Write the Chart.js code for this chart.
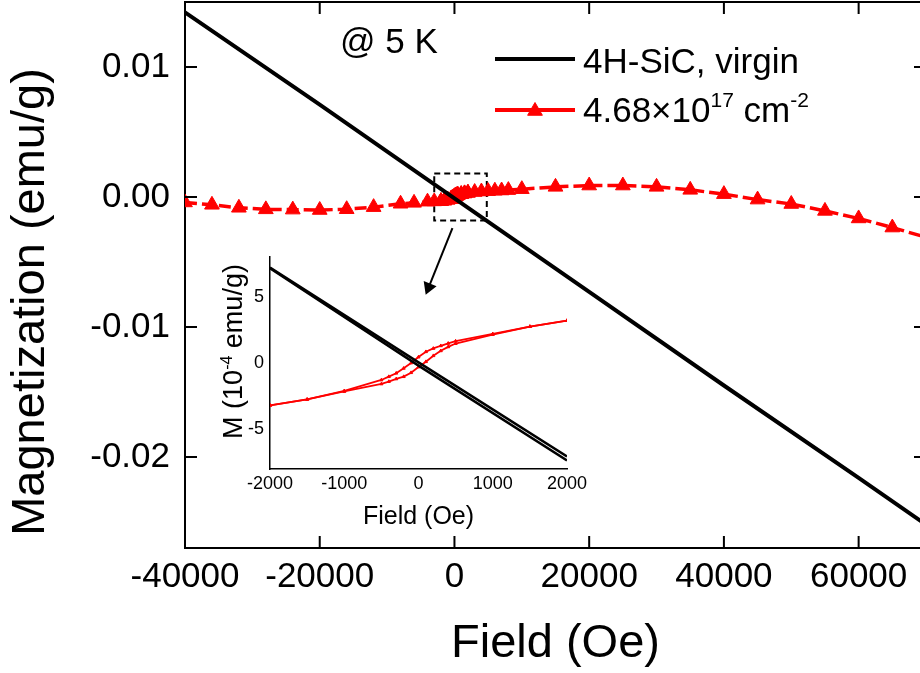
<!DOCTYPE html>
<html>
<head>
<meta charset="utf-8">
<script src="https://cdn.jsdelivr.net/npm/chart.js@4.4.0/dist/chart.umd.min.js"></script>
<style>
  html, body { margin: 0; padding: 0; background: #fff; overflow: hidden; }
  #wrap { position: relative; width: 920px; height: 673px; overflow: hidden; }
  #main { position: absolute; left: 0; top: 0; }
  #inset { position: absolute; left: 195px; top: 240px; }
</style>
</head>
<body>
<div id="wrap">
  <canvas id="main" width="935" height="673"></canvas>
  <canvas id="inset" width="400" height="300"></canvas>
</div>
<script>
//Datos
const virginField = [-40000, -20000, 0, 20000, 40000, 60000, 70000];
const virginM = [0.0142, 0.0071, -0.0001, -0.0073, -0.0145, -0.0216, -0.0252];

const dopedFieldLeft = [-40000, -36000, -32000, -28000, -24000, -20000, -16000, -12000, -8000, -6000, -4000, -3000];
const dopedMLeft = [-0.00042, -0.0006, -0.00083, -0.00095, -0.00097, -0.001, -0.00094, -0.00078, -0.00052, -0.00045, -0.00036, -0.00034];
const dopedFieldRight = [3000, 4000, 5000, 6000, 7000, 8000, 10000, 15000, 20000, 25000, 30000, 35000, 40000, 45000, 50000, 55000, 60000, 65000, 70000];
const dopedMRight = [0.00038, 0.00042, 0.00045, 0.00048, 0.0005, 0.00053, 0.0006, 0.00078, 0.00088, 0.00088, 0.00078, 0.00055, 0.00022, -0.0002, -0.00054, -0.00107, -0.00165, -0.00235, -0.0031];

//Lazo a campo bajo (M en 1e-4 emu/g)
const loopField = [-2000, -1500, -1000, -500, -400, -300, -200, -100, 0, 100, 200, 300, 400, 500, 1000, 1500, 2000];
const loopUp = [-3.2, -2.75, -2.15, -1.58, -1.4, -1.2, -1.03, -0.73, -0.3, 0.1, 0.55, 0.92, 1.22, 1.47, 2.15, 2.75, 3.2];
const loopDown = [-3.2, -2.75, -2.1, -1.28, -1.03, -0.77, -0.4, 0.0, 0.45, 0.85, 1.1, 1.3, 1.48, 1.65, 2.2, 2.75, 3.2];
const virginLoopField = [-2000, 0, 2000];
const virginLoopA = [7.2, 0.05, -7.05];
const virginLoopB = [7.15, -0.2, -7.35];

//Recuadro punteado y flecha (en unidades de datos)
const boxField = [-3000, 4800, 4800, -3000, -3000];
const boxM = [0.0018, 0.0018, -0.0018, -0.0018, 0.0018];
const arrowField = [-300, -3830];
const arrowM = [-0.0024, -0.00695];

//Etiquetas de los ejes
const mainXTicks = [-40000, -20000, 0, 20000, 40000, 60000];
const mainYTicks = [0.01, 0, -0.01, -0.02];
const insetXTicks = [-2000, -1000, 0, 1000, 2000];
const insetYTicks = [-5, 0, 5];

const RED = '#ff0000';
const FONT = '"Liberation Sans", Arial, sans-serif';
Chart.defaults.font.family = FONT;
Chart.defaults.color = '#000';

const pts = (xs, ys, k = 1) => xs.map((x, i) => ({x: x, y: ys[i] * k}));
const inList = (v, list) => list.some(t => Math.abs(t - v) < 1e-9);

//Texto con superindices
function richText(ctx, parts, x, y, size, supSize, rise, align) {
  let widths = parts.map(p => {
    ctx.font = (p[1] ? supSize : size) + 'px ' + FONT;
    return ctx.measureText(p[0]).width;
  });
  let total = widths.reduce((a, b) => a + b, 0);
  let cx = align === 'center' ? x - total / 2 : x;
  ctx.textAlign = 'left';
  ctx.textBaseline = 'alphabetic';
  parts.forEach((p, i) => {
    ctx.font = (p[1] ? supSize : size) + 'px ' + FONT;
    ctx.fillText(p[0], cx, p[1] ? y - rise : y);
    cx += widths[i];
  });
}

//Marco con marcas hacia dentro
const innerTicks = {
  id: 'innerTicks',
  afterDatasetsDraw(chart) {
    const {ctx, chartArea: a} = chart;
    const {x, y} = chart.scales;
    ctx.save();
    ctx.strokeStyle = '#000';
    ctx.lineWidth = 2;
    ctx.beginPath();
    ctx.moveTo(a.left, a.top);
    ctx.lineTo(a.right, a.top);
    ctx.lineTo(a.right, a.bottom);
    x.ticks.forEach(t => {
      const px = x.getPixelForValue(t.value);
      const len = t.label ? 12 : 7;
      ctx.moveTo(px, a.bottom); ctx.lineTo(px, a.bottom - len);
      ctx.moveTo(px, a.top); ctx.lineTo(px, a.top + len);
    });
    y.ticks.forEach(t => {
      const py = y.getPixelForValue(t.value);
      const len = t.label ? 12 : 7;
      ctx.moveTo(a.left, py); ctx.lineTo(a.left + len, py);
      ctx.moveTo(a.right, py); ctx.lineTo(a.right - len, py);
    });
    ctx.stroke();
    ctx.restore();
  }
};

//Leyenda, nota y titulo del eje Y
const notes = {
  id: 'notes',
  afterDraw(chart) {
    const ctx = chart.ctx;
    ctx.save();
    ctx.fillStyle = '#000';
    ctx.font = '35px ' + FONT;
    ctx.textAlign = 'left';
    ctx.textBaseline = 'alphabetic';
    ctx.fillText('@ 5 K', 340, 53);

    ctx.strokeStyle = '#000';
    ctx.lineWidth = 4;
    ctx.beginPath(); ctx.moveTo(495, 59); ctx.lineTo(575, 59); ctx.stroke();
    ctx.fillText('4H-SiC, virgin', 583, 73);

    ctx.strokeStyle = RED;
    ctx.fillStyle = RED;
    ctx.beginPath(); ctx.moveTo(495, 110); ctx.lineTo(575, 110); ctx.stroke();
    ctx.lineWidth = 1;
    Chart.helpers.drawPoint(ctx, {pointStyle: 'triangle', radius: 8.5, borderWidth: 1, rotation: 0}, 535, 111);
    ctx.fillStyle = '#000';
    richText(ctx, [['4.68\u00d710', false], ['17', true], [' cm', false], ['-2', true]], 583, 122, 35, 21, 15, 'left');

    ctx.translate(44, 302);
    ctx.rotate(-Math.PI / 2);
    ctx.font = '47px ' + FONT;
    ctx.textAlign = 'center';
    ctx.fillText('Magnetization (emu/g)', 0, 0);
    ctx.restore();
  }
};

const redLine = {
  borderColor: RED,
  backgroundColor: RED,
  borderWidth: 3.5,
  borderDash: [12, 5],
  pointStyle: 'triangle',
  pointRadius: c => (c.raw && c.raw.x > 68000 ? 0 : 8.5),
  pointBorderWidth: 1,
  pointBorderColor: RED
};

new Chart(document.getElementById('main'), {
  type: 'line',
  data: {
    datasets: [
      { data: pts(virginField, virginM), borderColor: '#000', borderWidth: 4, pointRadius: 0 },
      Object.assign({ data: pts(dopedFieldLeft, dopedMLeft).concat(pts(loopField, loopUp, 1e-4), pts(dopedFieldRight, dopedMRight)) }, redLine),
      Object.assign({ data: pts(loopField, loopDown, 1e-4) }, redLine),
      { data: pts(boxField, boxM), borderColor: '#000', borderWidth: 2, borderDash: [6, 4], pointRadius: 0 },
      { data: pts(arrowField, arrowM), borderColor: '#000', backgroundColor: '#000', borderWidth: 2,
        pointStyle: 'triangle', pointRotation: 201.8, pointRadius: c => (c.dataIndex === 1 ? 6 : 0) }
    ]
  },
  options: {
    responsive: false,
    animation: false,
    layout: { autoPadding: false, padding: { top: 2, right: 9, left: 0, bottom: 0 } },
    elements: { line: { tension: 0 } },
    plugins: { legend: { display: false }, tooltip: { enabled: false } },
    scales: {
      x: {
        type: 'linear', min: -40000, max: 70000,
        afterFit: s => { s.height = 125; s.paddingLeft = 0; s.paddingRight = 0; },
        ticks: { stepSize: 10000, autoSkip: false, maxRotation: 0, minRotation: 0, padding: 8,
          font: { size: 35 }, color: '#000',
          callback: v => (inList(v, mainXTicks) ? String(Math.round(v)) : null) },
        grid: { drawOnChartArea: false, drawTicks: false },
        border: { display: true, color: '#000', width: 2 },
        title: { display: true, text: 'Field (Oe)', font: { size: 47 }, color: '#000', padding: { top: 0, bottom: 1 } }
      },
      y: {
        type: 'linear', min: -0.027, max: 0.015,
        afterFit: s => { s.width = 185; s.paddingTop = 0; s.paddingBottom = 0; },
        ticks: { stepSize: 0.005, includeBounds: true, autoSkip: false, padding: 0,
          font: { size: 35 }, color: '#000',
          callback: v => (inList(v, mainYTicks) ? (Math.abs(v) < 1e-9 ? '0.00' : v.toFixed(2)) : null) },
        grid: { drawOnChartArea: false, drawTicks: true, tickLength: 15, tickColor: 'rgba(0,0,0,0)' },
        border: { display: true, color: '#000', width: 2 }
      }
    }
  },
  plugins: [innerTicks, notes]
});

//Titulo Y del recuadro interior
const insetTitle = {
  id: 'insetTitle',
  afterDraw(chart) {
    const ctx = chart.ctx;
    ctx.save();
    ctx.fillStyle = '#000';
    ctx.translate(46.5, 111.5);
    ctx.rotate(-Math.PI / 2);
    richText(ctx, [['M (10', false], ['-4', true], [' emu/g)', false]], 0, 0, 27, 16, 10, 'center');
    ctx.restore();
  }
};

const redLoop = {
  borderColor: RED,
  backgroundColor: RED,
  borderWidth: 1.8,
  pointStyle: 'triangle',
  pointRadius: 1.8,
  pointBorderWidth: 1,
  pointBorderColor: RED
};

new Chart(document.getElementById('inset'), {
  type: 'line',
  data: {
    datasets: [
      { data: pts(virginLoopField, virginLoopA), borderColor: '#000', borderWidth: 2.5, pointRadius: 0 },
      { data: pts(virginLoopField, virginLoopB), borderColor: '#000', borderWidth: 2.5, pointRadius: 0 },
      Object.assign({ data: pts(loopField, loopUp) }, redLoop),
      Object.assign({ data: pts(loopField, loopDown) }, redLoop)
    ]
  },
  options: {
    responsive: false,
    animation: false,
    layout: { autoPadding: false, padding: { top: 17, right: 28, left: 0, bottom: 0 } },
    elements: { line: { tension: 0 } },
    plugins: { legend: { display: false }, tooltip: { enabled: false } },
    scales: {
      x: {
        type: 'linear', min: -2000, max: 2000,
        afterFit: s => { s.height = 71; },
        ticks: { stepSize: 1000, autoSkip: false, maxRotation: 0, minRotation: 0, padding: 4,
          font: { size: 18 }, color: '#000',
          callback: v => (inList(v, insetXTicks) ? String(Math.round(v)) : null) },
        grid: { drawOnChartArea: false, drawTicks: false },
        border: { display: true, color: '#000', width: 1.5 },
        title: { display: true, text: 'Field (Oe)', font: { size: 25 }, color: '#000', padding: { top: 0, bottom: 8 } }
      },
      y: {
        type: 'linear', min: -8, max: 8,
        afterFit: s => { s.width = 75; s.paddingTop = 0; s.paddingBottom = 0; },
        ticks: { stepSize: 5, includeBounds: false, autoSkip: false, padding: 6,
          font: { size: 18 }, color: '#000',
          callback: v => (inList(v, insetYTicks) ? String(Math.round(v)) : null) },
        grid: { drawOnChartArea: false, drawTicks: false },
        border: { display: true, color: '#000', width: 1.5 }
      }
    }
  },
  plugins: [insetTitle]
});
</script>
</body>
</html>
